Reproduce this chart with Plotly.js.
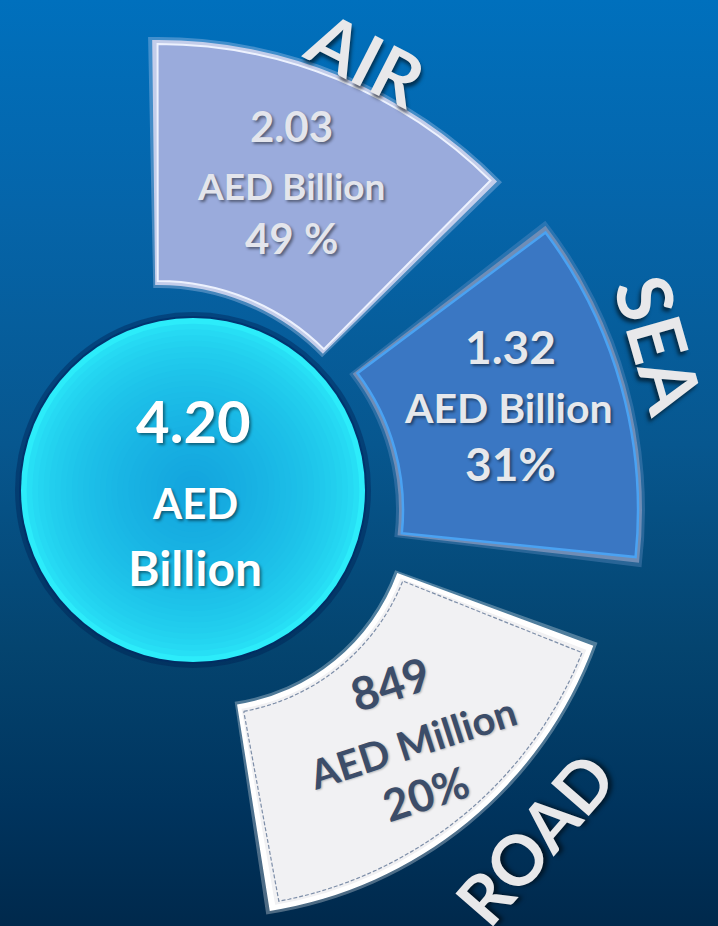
<!DOCTYPE html>
<html><head><meta charset="utf-8">
<script src="https://cdn.plot.ly/plotly-3.0.1.min.js"></script>
<style>
html,body{margin:0;padding:0;width:718px;height:926px;overflow:hidden;}
body{background:linear-gradient(180deg,#0070bd 0%,#0565aa 22%,#07578f 48%,#04446f 70%,#00345e 87%,#00294c 100%);}
#chart{width:718px;height:926px;}
</style></head><body><div id="chart"></div>
<script>
// ---- data ----
const categories = ['AIR', 'SEA', 'ROAD'];
const values = [2.03, 1.32, 849];
const valueLabels = ['2.03', '1.32', '849'];
const units = ['AED Billion', 'AED Billion', 'AED Million'];
const shares = [49, 31, 20];
const shareLabels = ['49 %', '31%', '20%'];
const totalValue = '4.20';
const totalUnit = ['AED', 'Billion'];

// ---- layout geometry (pixels / degrees) ----
const W = 718, H = 926;
const wedges = [
  {cx: 158, cy: 517, rIn: 232, rOut: 477, t0: 44.7, t1: 90.7, sector: [40, 96]},
  {cx: 175, cy: 510, rIn: 224, rOut: 467, t0: -6.5, t1: 37.5, sector: [-10, 41]},
  {cx: 205, cy: 502, rIn: 205, rOut: 414, t0: -81, t1: -20.3, sector: [-85, -16]}
];
const styles = [
  {glow: 'rgba(190,205,240,0.35)', border: '#c3cdea', fill: '#9aabdc', line: 'rgba(240,244,255,0.95)', text: '#e3e5ec'},
  {glow: 'rgba(110,150,200,0.35)', border: '#6f8db6', fill: '#3a77c3', line: '#4aa2f2', text: '#e6e8ec'},
  {glow: 'rgba(255,255,255,0.3)', border: '#ffffff', fill: '#f1f1f3', line: '#ffffff', text: '#3c4d69'}
];
const circle = {cx: 193, cy: 490, r: 172};

function mod(a, b) { return ((a % b) + b) % b; }
function d2r(d) { return d * Math.PI / 180; }
function sectorBBox(sector) {
  const s0 = sector[0], s1 = sector[1], arc = s1 - s0;
  const a0 = mod(s0, 360), a1 = a0 + arc;
  const ax0 = Math.cos(d2r(a0)), ay0 = Math.sin(d2r(a0));
  const ax1 = Math.cos(d2r(a1)), ay1 = Math.sin(d2r(a1));
  let x0, y0, x1, y1;
  if ((a0 <= 90 && a1 >= 90) || (a0 > 90 && a1 >= 450)) y1 = 1;
  else if (ay0 <= 0 && ay1 <= 0) y1 = 0; else y1 = Math.max(ay0, ay1);
  if ((a0 <= 180 && a1 >= 180) || (a0 > 180 && a1 >= 540)) x0 = -1;
  else if (ax0 >= 0 && ax1 >= 0) x0 = 0; else x0 = Math.min(ax0, ax1);
  if ((a0 <= 270 && a1 >= 270) || (a0 > 270 && a1 >= 630)) y0 = -1;
  else if (ay0 >= 0 && ay1 >= 0) y0 = 0; else y0 = Math.min(ay0, ay1);
  if (a1 >= 360) x1 = 1;
  else if (ax0 <= 0 && ax1 <= 0) x1 = 0; else x1 = Math.max(ax0, ax1);
  return [x0, y0, x1, y1];
}
const clamp = v => Math.min(1, Math.max(0, v));

const traces = [];
const layout = {
  width: W, height: H, autosize: false,
  margin: {l: 0, r: 0, t: 0, b: 0, pad: 0},
  paper_bgcolor: 'rgba(0,0,0,0)', plot_bgcolor: 'rgba(0,0,0,0)',
  showlegend: false, dragmode: false,
  shapes: [], annotations: []
};

wedges.forEach((w, i) => {
  const key = i === 0 ? 'polar' : 'polar' + (i + 1);
  const R = w.rOut + 8;
  const bb = sectorBBox(w.sector);
  layout[key] = {
    sector: w.sector,
    domain: {
      x: [clamp((w.cx + R * bb[0]) / W), clamp((w.cx + R * bb[2]) / W)],
      y: [clamp(1 - (w.cy - R * bb[1]) / H), clamp(1 - (w.cy - R * bb[3]) / H)]
    },
    bgcolor: 'rgba(0,0,0,0)',
    radialaxis: {range: [0, R], visible: false},
    angularaxis: {visible: false, rotation: 0, direction: 'counterclockwise'}
  };
  const st = styles[i];
  const rMid = (w.rIn + w.rOut) / 2;
  const mid = (w.t0 + w.t1) / 2;
  function band(inset, color, line, lw) {
    const dTheta = 2 * inset / rMid * 180 / Math.PI;
    traces.push({
      type: 'barpolar', subplot: key,
      base: [w.rIn + inset], r: [w.rOut - w.rIn - 2 * inset],
      theta: [mid], width: [w.t1 - w.t0 - dTheta],
      marker: {color: color, line: {color: line, width: lw}},
      hoverinfo: 'skip', name: categories[i]
    });
  }
  band(-3, st.glow, 'rgba(0,0,0,0)', 0);
  band(0, st.border, 'rgba(0,0,0,0)', 0);
  band(4, st.fill, st.line, i === 1 ? 2.5 : 2);
  if (i === 2) {
    // dashed inner seam
    const ins = 8, pts = 40;
    const dT = ins / rMid * 180 / Math.PI;
    const th = [], rr = [];
    for (let k = 0; k <= pts; k++) { th.push(w.t0 + dT + (w.t1 - w.t0 - 2 * dT) * k / pts); rr.push(w.rIn + ins); }
    for (let k = pts; k >= 0; k--) { th.push(w.t0 + dT + (w.t1 - w.t0 - 2 * dT) * k / pts); rr.push(w.rOut - ins); }
    th.push(th[0]); rr.push(rr[0]);
    traces.push({type: 'scatterpolar', subplot: key, mode: 'lines', r: rr, theta: th,
      line: {color: '#7d8ea8', width: 1.2, dash: '4px,2px'}, hoverinfo: 'skip'});
  }
});

// ---- centre sphere ----
function circ(r, fill) {
  layout.shapes.push({type: 'circle', xref: 'paper', yref: 'paper', layer: 'above',
    x0: (circle.cx - r) / W, x1: (circle.cx + r) / W,
    y0: 1 - (circle.cy + r) / H, y1: 1 - (circle.cy - r) / H,
    fillcolor: fill, line: {width: 0}});
}
circ(circle.r + 6, 'rgba(0,30,80,0.4)');
circ(circle.r + 2, 'rgba(0,40,100,0.55)');
const c0 = [44, 236, 250], c1 = [20, 166, 222];
const N = 28;
for (let k = 0; k <= N; k++) {
  const f = k / N;
  const r = circle.r * (1 - f * 0.92);
  const e = Math.pow(f, 0.5);
  const c = c0.map((v, j) => Math.round(v + (c1[j] - v) * e));
  circ(r, 'rgb(' + c.join(',') + ')');
}

// ---- text ----
function ann(text, px, py, size, color, angle, shadow) {
  layout.annotations.push({text: text, xref: 'paper', yref: 'paper',
    x: px / W, y: 1 - py / H, xanchor: 'center', yanchor: 'middle', showarrow: false,
    textangle: angle || 0,
    font: {family: 'Lato, "Open Sans", sans-serif', size: size, color: color, weight: 700,
      shadow: shadow || '2px 2px 3px rgba(0,0,0,0.45)'}});
}
const big = '3px 3px 4px rgba(0,0,0,0.55)';
ann(categories[0], 366, 58, 72, '#e8e8ea', 27, big);
ann(categories[1], 660, 344, 76, '#e8e8ea', 74, big);
ann(categories[2], 534, 838, 69, '#e8e8ea', -49, big);

ann(valueLabels[0], 291, 126, 42, styles[0].text, 0);
ann(units[0], 291, 186, 37, styles[0].text, 0);
ann(shareLabels[0], 291, 238, 42, styles[0].text, 0);

ann(valueLabels[1], 510, 346, 46, styles[1].text, 0);
ann(units[1], 509, 408, 41, styles[1].text, 0);
ann(shareLabels[1], 510, 464, 46, styles[1].text, 0);

ann(valueLabels[2], 390, 683, 46, styles[2].text, -18, '1px 1px 2px rgba(0,0,0,0.25)');
ann(units[2], 412, 743, 40, styles[2].text, -18, '1px 1px 2px rgba(0,0,0,0.25)');
ann(shareLabels[2], 425, 793, 44, styles[2].text, -18, '1px 1px 2px rgba(0,0,0,0.25)');

ann(totalValue, 194, 420, 58, '#ffffff', 0);
ann(totalUnit[0], 195, 503, 42, '#ffffff', 0);
ann(totalUnit[1], 195, 567, 48, '#ffffff', 0);

Plotly.newPlot('chart', traces, layout, {staticPlot: true, displayModeBar: false});
</script></body></html>
